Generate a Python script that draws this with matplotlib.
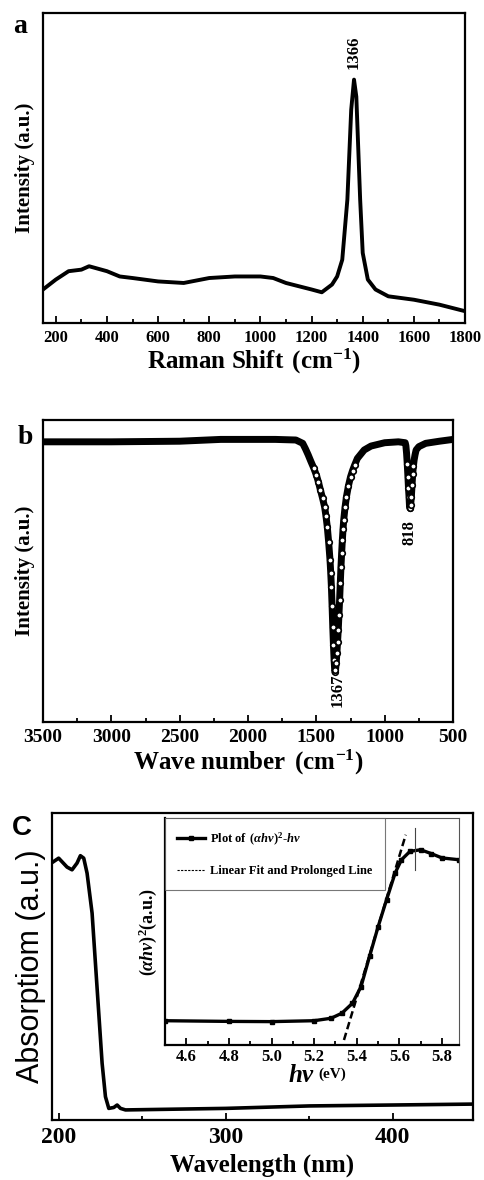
import numpy as np
import matplotlib
matplotlib.use('Agg')
import matplotlib.pyplot as plt
from matplotlib.ticker import MultipleLocator, FixedLocator, FormatStrFormatter

plt.rcParams['font.family'] = ['Liberation Serif', 'DejaVu Serif']
plt.rcParams['font.weight'] = 'bold'
plt.rcParams['axes.labelweight'] = 'bold'
plt.rcParams['mathtext.fontset'] = 'custom'
plt.rcParams['mathtext.rm'] = 'Liberation Serif:weight=bold'
plt.rcParams['mathtext.it'] = 'Liberation Serif:style=italic:weight=bold'
plt.rcParams['mathtext.bf'] = 'Liberation Serif:weight=bold'

# (a) Raman spectrum
raman_x = [150, 200, 250, 300, 330, 400, 450, 500, 600, 700, 800, 900, 1000, 1050,
           1100, 1200, 1240, 1280, 1300, 1320, 1340, 1355, 1366, 1375, 1390, 1400,
           1420, 1450, 1500, 1600, 1700, 1800]
raman_y = [10.8, 14.0, 16.7, 17.2, 18.3, 16.7, 15.0, 14.5, 13.4, 12.9, 14.5, 15.0, 15.0, 14.5,
           12.9, 10.8, 9.9, 12.4, 15.0, 20.4, 39.8, 68.8, 78.5, 73.0, 39.8, 22.6,
           14.0, 10.8, 8.6, 7.5, 5.9, 3.8]

# (b) IR spectrum
ir_x = [3500, 3000, 2500, 2200, 2000, 1800, 1650, 1600, 1580, 1560, 1540, 1520, 1500,
        1485, 1470, 1455, 1440, 1430, 1420, 1410, 1400, 1395, 1390, 1385, 1380, 1375,
        1370, 1365, 1360, 1355, 1350, 1345, 1340, 1335, 1330, 1325, 1320, 1315, 1310,
        1305, 1300, 1290, 1280, 1265, 1250, 1235, 1220, 1200, 1150, 1100, 1000, 900,
        850, 845, 840, 835, 830, 826, 822, 818, 814, 810, 805, 800, 795, 790, 785, 778,
        770, 750, 700, 600, 500]
ir_y = [92.8, 92.8, 93.0, 93.6, 93.6, 93.6, 93.4, 92.3, 90.5, 88.5, 86.3, 84.2, 81.8,
        79.5, 76.8, 74.2, 71.3, 68.3, 64.6, 59.5, 53.6, 49.5, 44.8, 38.5, 31.5, 25.5,
        20.4, 16.6, 17.1, 19.5, 22.7, 26.5, 30.4, 35.3, 40.3, 46.0, 51.4, 56.0, 60.2,
        63.8, 66.9, 71.2, 74.6, 78.3, 81.2, 83.3, 85.1, 87.3, 90.1, 91.4, 92.5, 92.8,
        92.5, 91.5, 89.0, 85.5, 81.2, 77.5, 74.6, 71.0, 71.0, 72.0, 74.6, 78.5, 82.3,
        84.8, 86.7, 88.5, 90.1, 91.2, 92.3, 93.0, 93.6]

# (c) UV-vis absorption
uv_x = [197, 200, 205, 208, 211, 213, 215, 217, 220, 222, 224, 226, 228, 230, 233, 235,
        237, 240, 300, 350, 400, 448]
uv_y = [84.2, 85.3, 82.4, 81.5, 83.7, 86.1, 85.3, 80.4, 67.4, 51.1, 34.8, 18.5, 7.6, 3.8,
        4.1, 4.9, 3.8, 3.3, 3.8, 4.6, 4.9, 5.2]

# inset: (ahv)^2 vs hv
tauc_x = [4.5, 4.8, 5.0, 5.2, 5.28, 5.33, 5.38, 5.42, 5.46, 5.5, 5.54, 5.58, 5.61,
          5.65, 5.70, 5.75, 5.80, 5.88]
tauc_y = [10.7, 10.4, 10.3, 10.7, 11.8, 14.0, 18.4, 25.7, 39.0, 52.0, 64.0, 75.7, 81.6,
          85.3, 86.0, 84.3, 82.4, 81.6]
fit_x = [5.34, 5.63]
fit_y = [2.2, 92.6]
mark_x = 5.672
mark_y = [77.0, 95.6]

fig = plt.figure(figsize=(4.85, 11.8), dpi=100)

def style(ax, size):
    for s in ax.spines.values():
        s.set_linewidth(1.6)
    ax.tick_params(axis='x', which='both', direction='in', top=False, width=1.3,
                   labelsize=size, pad=5)
    ax.tick_params(axis='x', which='major', length=5)
    ax.tick_params(axis='x', which='minor', length=3)
    ax.set_yticks([])

# ---- a ----
ax1 = fig.add_axes([0.0887, 0.7263, 0.8701, 0.2627])
ax1.plot(raman_x, raman_y, color='black', lw=2.8)
ax1.set_xlim(150, 1800)
ax1.set_ylim(0, 100)
ax1.xaxis.set_major_locator(MultipleLocator(200))
ax1.xaxis.set_minor_locator(MultipleLocator(100))
style(ax1, 12)
ax1.set_xlabel(r'Raman Shift $\,$(cm$^{-1}$)', fontsize=18, labelpad=1)
ax1.set_ylabel('Intensity (a.u.)', fontsize=15, labelpad=6)
ax1.text(1366, 82, '1366', rotation=90, ha='center', va='bottom', fontsize=12)
fig.text(0.027, 0.972, 'a', fontsize=20, fontweight='bold')

# ---- b ----
ax2 = fig.add_axes([0.0887, 0.3881, 0.8454, 0.2559])
steep = [y < 86 for y in ir_y]
ax2.plot(ir_x, ir_y, color='black', lw=5, solid_joinstyle='round')
ax2.plot(ir_x, ir_y, ls='none', marker='o', ms=4, mfc='white', mec='black',
         mew=1.2, markevery=steep)
ax2.set_xlim(3500, 500)
ax2.set_ylim(0, 100)
ax2.xaxis.set_major_locator(MultipleLocator(500))
ax2.xaxis.set_minor_locator(MultipleLocator(250))
style(ax2, 14)
ax2.set_xlabel(r'Wave number $\,$(cm$^{-1}$)', fontsize=18, labelpad=1)
ax2.set_ylabel('Intensity (a.u.)', fontsize=15, labelpad=6)
ax2.text(1345, 16, '1367', rotation=90, ha='center', va='top', fontsize=12)
ax2.text(818, 67, '818', rotation=90, ha='center', va='top', fontsize=12)
fig.text(0.037, 0.624, 'b', fontsize=20, fontweight='bold')

# ---- c ----
ax3 = fig.add_axes([0.1072, 0.0508, 0.8680, 0.2602])
ax3.plot(uv_x, uv_y, color='black', lw=2.6)
ax3.set_xlim(196, 448)
ax3.set_ylim(0, 100)
ax3.xaxis.set_major_locator(FixedLocator([200, 300, 400]))
ax3.xaxis.set_minor_locator(FixedLocator([250, 350, 450]))
style(ax3, 17)
ax3.set_xlabel('Wavelength (nm)', fontsize=18, labelpad=4)
ax3.set_ylabel('Absorptiom (a.u.)', fontsize=22, fontweight='normal',
               family=['Liberation Sans', 'DejaVu Sans'], labelpad=4)
fig.text(0.024, 0.292, 'C', fontsize=20, fontweight='bold',
         family=['Liberation Sans', 'DejaVu Sans'])

# inset
ax4 = fig.add_axes([0.3402, 0.1144, 0.6062, 0.1924])
ax4.plot(tauc_x, tauc_y, color='black', lw=2.4, marker='s', ms=2.5,
         label=r'Plot of $\,$($\alpha hv$)$^{2}$-$hv$')
ax4.plot(fit_x, fit_y, color='black', lw=1.8, ls=(0, (3, 1.5)))
ax4.plot([], [], color='black', lw=0.8, ls=(0, (2, 1.2)),
         label='Linear Fit and Prolonged Line')
ax4.plot([mark_x, mark_x], mark_y, color='#444444', lw=0.8)
ax4.set_xlim(4.5, 5.88)
ax4.set_ylim(0, 100)
ax4.xaxis.set_major_locator(MultipleLocator(0.2))
ax4.xaxis.set_minor_locator(MultipleLocator(0.1))
ax4.xaxis.set_major_formatter(FormatStrFormatter('%.1f'))
style(ax4, 12)
ax4.tick_params(axis='x', pad=3)
for side in ('top', 'right'):
    ax4.spines[side].set_linewidth(0.8)
    ax4.spines[side].set_color('#555555')
ax4.set_ylabel(r'($\alpha hv$)$^{2}$(a.u.)', fontsize=13, labelpad=4)
ax4.text(0.465, -0.085, r'$hv$', transform=ax4.transAxes, fontsize=18,
         ha='center', va='top')
ax4.text(0.52, -0.1, '(eV)', transform=ax4.transAxes, fontsize=11,
         ha='left', va='top')
leg = ax4.legend(loc='upper left', fontsize=9, frameon=True, fancybox=False,
                 borderaxespad=0, handlelength=2.2, labelspacing=1.4,
                 borderpad=1.0, handletextpad=0.4)
leg.get_frame().set_edgecolor('#555555')
leg.get_frame().set_linewidth(0.8)

fig.savefig('out.png', dpi=100)
